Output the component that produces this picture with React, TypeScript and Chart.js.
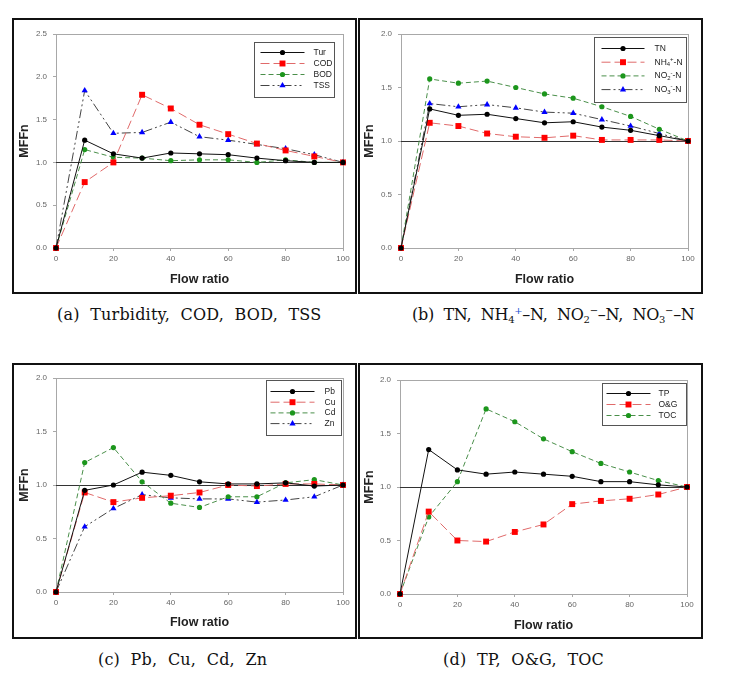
import React, { useEffect, useRef } from 'react';
import { Chart, registerables } from 'chart.js';

Chart.register(...registerables);

// ---------- data ----------
const FLOW = [0, 10, 20, 30, 40, 50, 60, 70, 80, 90, 100];

const TUR = [0, 1.26, 1.10, 1.05, 1.11, 1.10, 1.09, 1.05, 1.02, 1.00, 1.00];
const COD = [0, 0.77, 1.00, 1.79, 1.63, 1.44, 1.33, 1.22, 1.14, 1.07, 1.00];
const BOD = [0, 1.15, 1.06, 1.05, 1.02, 1.03, 1.03, 1.00, 1.03, 1.00, 1.00];
const TSS = [0, 1.84, 1.34, 1.35, 1.47, 1.30, 1.26, 1.21, 1.16, 1.09, 1.00];

const TN = [0, 1.30, 1.24, 1.25, 1.21, 1.17, 1.18, 1.13, 1.10, 1.05, 1.00];
const NH4 = [0, 1.17, 1.14, 1.07, 1.04, 1.03, 1.05, 1.01, 1.01, 1.01, 1.00];
const NO2 = [0, 1.58, 1.54, 1.56, 1.50, 1.44, 1.40, 1.32, 1.23, 1.11, 1.00];
const NO3 = [0, 1.35, 1.32, 1.34, 1.31, 1.27, 1.26, 1.20, 1.14, 1.07, 1.00];

const PB = [0, 0.95, 1.00, 1.12, 1.09, 1.03, 1.01, 1.01, 1.02, 0.99, 1.00];
const CU = [0, 0.93, 0.84, 0.88, 0.90, 0.93, 1.00, 0.99, 1.01, 1.01, 1.00];
const CD = [0, 1.21, 1.35, 1.03, 0.83, 0.79, 0.89, 0.89, 1.02, 1.05, 1.00];
const ZN = [0, 0.61, 0.78, 0.91, 0.88, 0.87, 0.87, 0.84, 0.86, 0.89, 1.00];

const TP = [0, 1.35, 1.16, 1.12, 1.14, 1.12, 1.10, 1.05, 1.05, 1.02, 1.00];
const OG = [0, 0.77, 0.50, 0.49, 0.58, 0.65, 0.84, 0.87, 0.89, 0.93, 1.00];
const TOC = [0, 0.72, 1.05, 1.73, 1.61, 1.45, 1.33, 1.22, 1.14, 1.06, 1.00];

type Seg = [string, string];
const LABELS_A: (string | Seg[])[] = ['Tur', 'COD', 'BOD', 'TSS'];
const LABELS_B: (string | Seg[])[] = [
  'TN',
  [['NH', ''], ['4', 'sub'], ['+', 'sup'], ['-N', '']],
  [['NO', ''], ['2', 'sub'], ['-', 'sup'], ['-N', '']],
  [['NO', ''], ['3', 'sub'], ['-', 'sup'], ['-N', '']],
];
const LABELS_C: (string | Seg[])[] = ['Pb', 'Cu', 'Cd', 'Zn'];
const LABELS_D: (string | Seg[])[] = ['TP', 'O&G', 'TOC'];

const X_TITLE = 'Flow ratio';
const Y_TITLE = 'MFFn';
const REF_VALUE = 1.0;
const X_TICK_STEP = 20;
const Y_TICK_STEP = 0.5;
const Y_MAX_A = 2.5;
const Y_MAX = 2.0;

// ---------- styles ----------
const STYLES = [
  { borderColor: '#111111', borderDash: [], pointStyle: 'circle', pointBackgroundColor: '#000000', pointBorderColor: '#000000', pointRadius: 2.6 },
  { borderColor: '#e06a6a', borderDash: [9, 4], pointStyle: 'rect', pointBackgroundColor: '#ff0000', pointBorderColor: '#ff0000', pointRadius: 4.2 },
  { borderColor: '#4a8f4a', borderDash: [5, 3], pointStyle: 'circle', pointBackgroundColor: '#1c961c', pointBorderColor: '#1c961c', pointRadius: 2.6 },
  { borderColor: '#444444', borderDash: [9, 3, 2, 3, 2, 3], pointStyle: 'triangle', pointBackgroundColor: '#0000ff', pointBorderColor: '#0000ff', pointRadius: 3.6 },
];

const FONT = "'Liberation Sans', Arial, sans-serif";

// plugin: plot box, reference line, legend
const decorPlugin = {
  id: 'decor',
  beforeDatasetsDraw(chart: any) {
    const { ctx, chartArea: a, scales } = chart;
    ctx.save();
    ctx.strokeStyle = '#a8a8a8';
    ctx.lineWidth = 1;
    ctx.strokeRect(Math.round(a.left) + 0.5, Math.round(a.top) + 0.5, Math.round(a.right - a.left), Math.round(a.bottom - a.top));
    const y = Math.round(scales.y.getPixelForValue(REF_VALUE)) + 0.5;
    ctx.strokeStyle = '#333333';
    ctx.beginPath();
    ctx.moveTo(a.left, y);
    ctx.lineTo(a.right, y);
    ctx.stroke();
    ctx.restore();
  },
  afterDatasetsDraw(chart: any, _args: any, opts: any) {
    const { ctx, chartArea: a } = chart;
    const L = opts.layout;
    const labels = opts.labels;
    const bx = Math.round(a.right - L.right - L.w) + 0.5;
    const by = Math.round(a.top + L.top) + 0.5;
    ctx.save();
    ctx.fillStyle = '#ffffff';
    ctx.fillRect(bx, by, L.w, L.h);
    ctx.strokeStyle = '#555555';
    ctx.lineWidth = 1;
    ctx.strokeRect(bx, by, L.w, L.h);
    chart.data.datasets.forEach((ds: any, i: number) => {
      const ry = by + L.first + i * L.gap;
      const x0 = bx + L.lx;
      const x1 = x0 + L.len;
      ctx.strokeStyle = ds.borderColor;
      ctx.lineWidth = 1;
      ctx.setLineDash(ds.borderDash || []);
      ctx.beginPath();
      ctx.moveTo(x0, ry);
      ctx.lineTo(x1, ry);
      ctx.stroke();
      ctx.setLineDash([]);
      const mx = (x0 + x1) / 2;
      ctx.fillStyle = ds.pointBackgroundColor;
      const r = ds.pointRadius;
      ctx.beginPath();
      if (ds.pointStyle === 'circle') {
        ctx.arc(mx, ry, r, 0, Math.PI * 2);
      } else if (ds.pointStyle === 'rect') {
        const s = r * Math.SQRT1_2;
        ctx.rect(mx - s, ry - s, 2 * s, 2 * s);
      } else {
        ctx.moveTo(mx, ry - r);
        ctx.lineTo(mx + r * 0.866, ry + r * 0.5);
        ctx.lineTo(mx - r * 0.866, ry + r * 0.5);
        ctx.closePath();
      }
      ctx.fill();
      // text
      const lab = labels[i];
      const segs: Seg[] = typeof lab === 'string' ? [[lab, '']] : lab;
      let tx = bx + L.tx;
      ctx.fillStyle = '#222222';
      ctx.textBaseline = 'middle';
      ctx.textAlign = 'left';
      segs.forEach(([t, k]) => {
        const size = k ? L.fs * 0.7 : L.fs;
        const dy = k === 'sub' ? 2.5 : k === 'sup' ? -3 : 0;
        ctx.font = `${size}px ${FONT}`;
        ctx.fillText(t, tx, ry + dy);
        tx += ctx.measureText(t).width;
      });
    });
    ctx.restore();
  },
};

type PanelCfg = {
  series: number[][];
  labels: (string | Seg[])[];
  yMax: number;
  pos: { left: number; top: number; width: number; height: number };
  area: { left: number; top: number; right: number; bottom: number };
  yTitleOff: number;
  xTitleOff: number;
  legend: any;
};

const PANELS: PanelCfg[] = [
  {
    series: [TUR, COD, BOD, TSS], labels: LABELS_A, yMax: Y_MAX_A,
    pos: { left: 12, top: 18, width: 345, height: 276 },
    area: { left: 42, top: 14, right: 329, bottom: 228 },
    yTitleOff: 3.5, xTitleOff: 4.5,
    legend: { right: 9, top: 8, w: 80, h: 55, first: 10, gap: 11, lx: 6, len: 44, tx: 59, fs: 8.5 },
  },
  {
    series: [TN, NH4, NO2, NO3], labels: LABELS_B, yMax: Y_MAX,
    pos: { left: 358, top: 18, width: 345, height: 276 },
    area: { left: 41, top: 14, right: 328, bottom: 228 },
    yTitleOff: 2.5, xTitleOff: 4.5,
    legend: { right: 2, top: 3, w: 92, h: 65, first: 11, gap: 13.7, lx: 7, len: 43, tx: 60, fs: 8.5 },
  },
  {
    series: [PB, CU, CD, ZN], labels: LABELS_C, yMax: Y_MAX,
    pos: { left: 12, top: 363, width: 345, height: 276 },
    area: { left: 42, top: 13, right: 329, bottom: 227 },
    yTitleOff: 3.5, xTitleOff: 6.5,
    legend: { right: 2, top: 2, w: 75, h: 55, first: 11, gap: 10.7, lx: 4, len: 44, tx: 58, fs: 8.5 },
  },
  {
    series: [TP, OG, TOC], labels: LABELS_D, yMax: Y_MAX,
    pos: { left: 358, top: 363, width: 345, height: 276 },
    area: { left: 40, top: 15, right: 327, bottom: 229 },
    yTitleOff: 2.5, xTitleOff: 3.5,
    legend: { right: 1, top: 3, w: 84, h: 42, first: 10, gap: 11, lx: 4, len: 44, tx: 56, fs: 8.5 },
  },
];

const SUP = (t: string, color = '#111') =>
  `<span style="font-size:10px;position:relative;top:-6px;color:${color}">${t}</span>`;
const SUB = (t: string) => `<span style="font-size:10px;position:relative;top:3px">${t}</span>`;

const CAPTIONS = [
  { left: 57, top: 305, html: '(a)&nbsp; Turbidity,&nbsp; COD,&nbsp; BOD,&nbsp; TSS' },
  {
    left: 412,
    top: 305,
    html: `(b)&nbsp; TN,&nbsp; NH${SUB('4')}${SUP('+', '#1a4fd0')}&ndash;N,&nbsp; NO${SUB('2')}${SUP('&minus;')}&ndash;N,&nbsp; NO${SUB('3')}${SUP('&minus;')}&ndash;N`,
  },
  { left: 98, top: 650, html: '(c)&nbsp; Pb,&nbsp; Cu,&nbsp; Cd,&nbsp; Zn' },
  { left: 443, top: 650, html: '(d)&nbsp; TP,&nbsp; O&amp;G,&nbsp; TOC' },
];

function Panel({ cfg }: { cfg: PanelCfg }) {
  const ref = useRef<HTMLCanvasElement | null>(null);
  const cw = cfg.pos.width - 4;
  const ch = cfg.pos.height - 4;
  useEffect(() => {
    const a = cfg.area;
    const tickFont = { size: 8, family: FONT };
    const titleFont = { size: 12.5, weight: 'bold' as const, family: FONT };
    const chart = new Chart(ref.current as HTMLCanvasElement, {
      type: 'line',
      data: {
        datasets: cfg.series.map((s, i) => ({
          label: typeof cfg.labels[i] === 'string' ? (cfg.labels[i] as string) : (cfg.labels[i] as Seg[]).map((g) => g[0]).join(''),
          data: FLOW.map((x, j) => ({ x, y: s[j] })),
          borderWidth: 1,
          pointBorderWidth: 0,
          pointHoverRadius: 3,
          clip: false as any,
          tension: 0,
          fill: false,
          ...STYLES[i],
        })) as any,
      },
      options: {
        responsive: false,
        maintainAspectRatio: false,
        animation: false,
        events: [],
        layout: { padding: { top: a.top, right: cw - a.right, left: 0, bottom: 0 } },
        plugins: {
          legend: { display: false },
          tooltip: { enabled: false },
          decor: { layout: cfg.legend, labels: cfg.labels },
        } as any,
        scales: {
          x: {
            type: 'linear',
            min: 0,
            max: 100,
            ticks: { stepSize: X_TICK_STEP, font: tickFont, color: '#666666', padding: 3, maxRotation: 0, autoSkip: false },
            grid: { display: true, drawOnChartArea: false, drawTicks: true, tickLength: 3, color: '#a8a8a8' },
            border: { display: true, color: '#a8a8a8' },
            title: { display: true, text: X_TITLE, font: titleFont, color: '#222222', padding: { top: 0, bottom: cfg.xTitleOff } },
            afterFit: (s: any) => { s.height = ch - a.bottom; },
          },
          y: {
            type: 'linear',
            min: 0,
            max: cfg.yMax,
            ticks: { stepSize: Y_TICK_STEP, font: tickFont, color: '#666666', padding: 6, callback: (v: any) => Number(v).toFixed(1) },
            grid: { display: true, drawOnChartArea: false, drawTicks: true, tickLength: 3, color: '#a8a8a8' },
            border: { display: true, color: '#a8a8a8' },
            title: { display: true, text: Y_TITLE, font: titleFont, color: '#222222', padding: { top: cfg.yTitleOff, bottom: 0 } },
            afterFit: (s: any) => { s.width = a.left; },
          },
        },
      },
      plugins: [decorPlugin],
    });
    return () => chart.destroy();
  }, []);
  return (
    <div
      style={{
        position: 'absolute',
        left: cfg.pos.left,
        top: cfg.pos.top,
        width: cfg.pos.width,
        height: cfg.pos.height,
        border: '2px solid #111',
        boxSizing: 'border-box',
        background: '#fff',
      }}
    >
      <canvas ref={ref} width={cw} height={ch} style={{ display: 'block', width: cw, height: ch }} />
    </div>
  );
}

export default function App() {
  return (
    <div style={{ position: 'absolute', left: 0, top: 0, width: 738, height: 674, background: '#fff' }}>
      {PANELS.map((p, i) => (
        <Panel key={i} cfg={p} />
      ))}
      {CAPTIONS.map((c, i) => (
        <div
          key={i}
          style={{
            position: 'absolute',
            left: c.left,
            top: c.top,
            fontFamily: "'DejaVu Serif', 'Liberation Serif', serif",
            fontSize: 16,
            lineHeight: '20px',
            whiteSpace: 'nowrap',
            color: '#111',
            letterSpacing: i === 1 ? '-0.3px' : '0.2px',
          }}
          dangerouslySetInnerHTML={{ __html: c.html }}
        />
      ))}
    </div>
  );
}
